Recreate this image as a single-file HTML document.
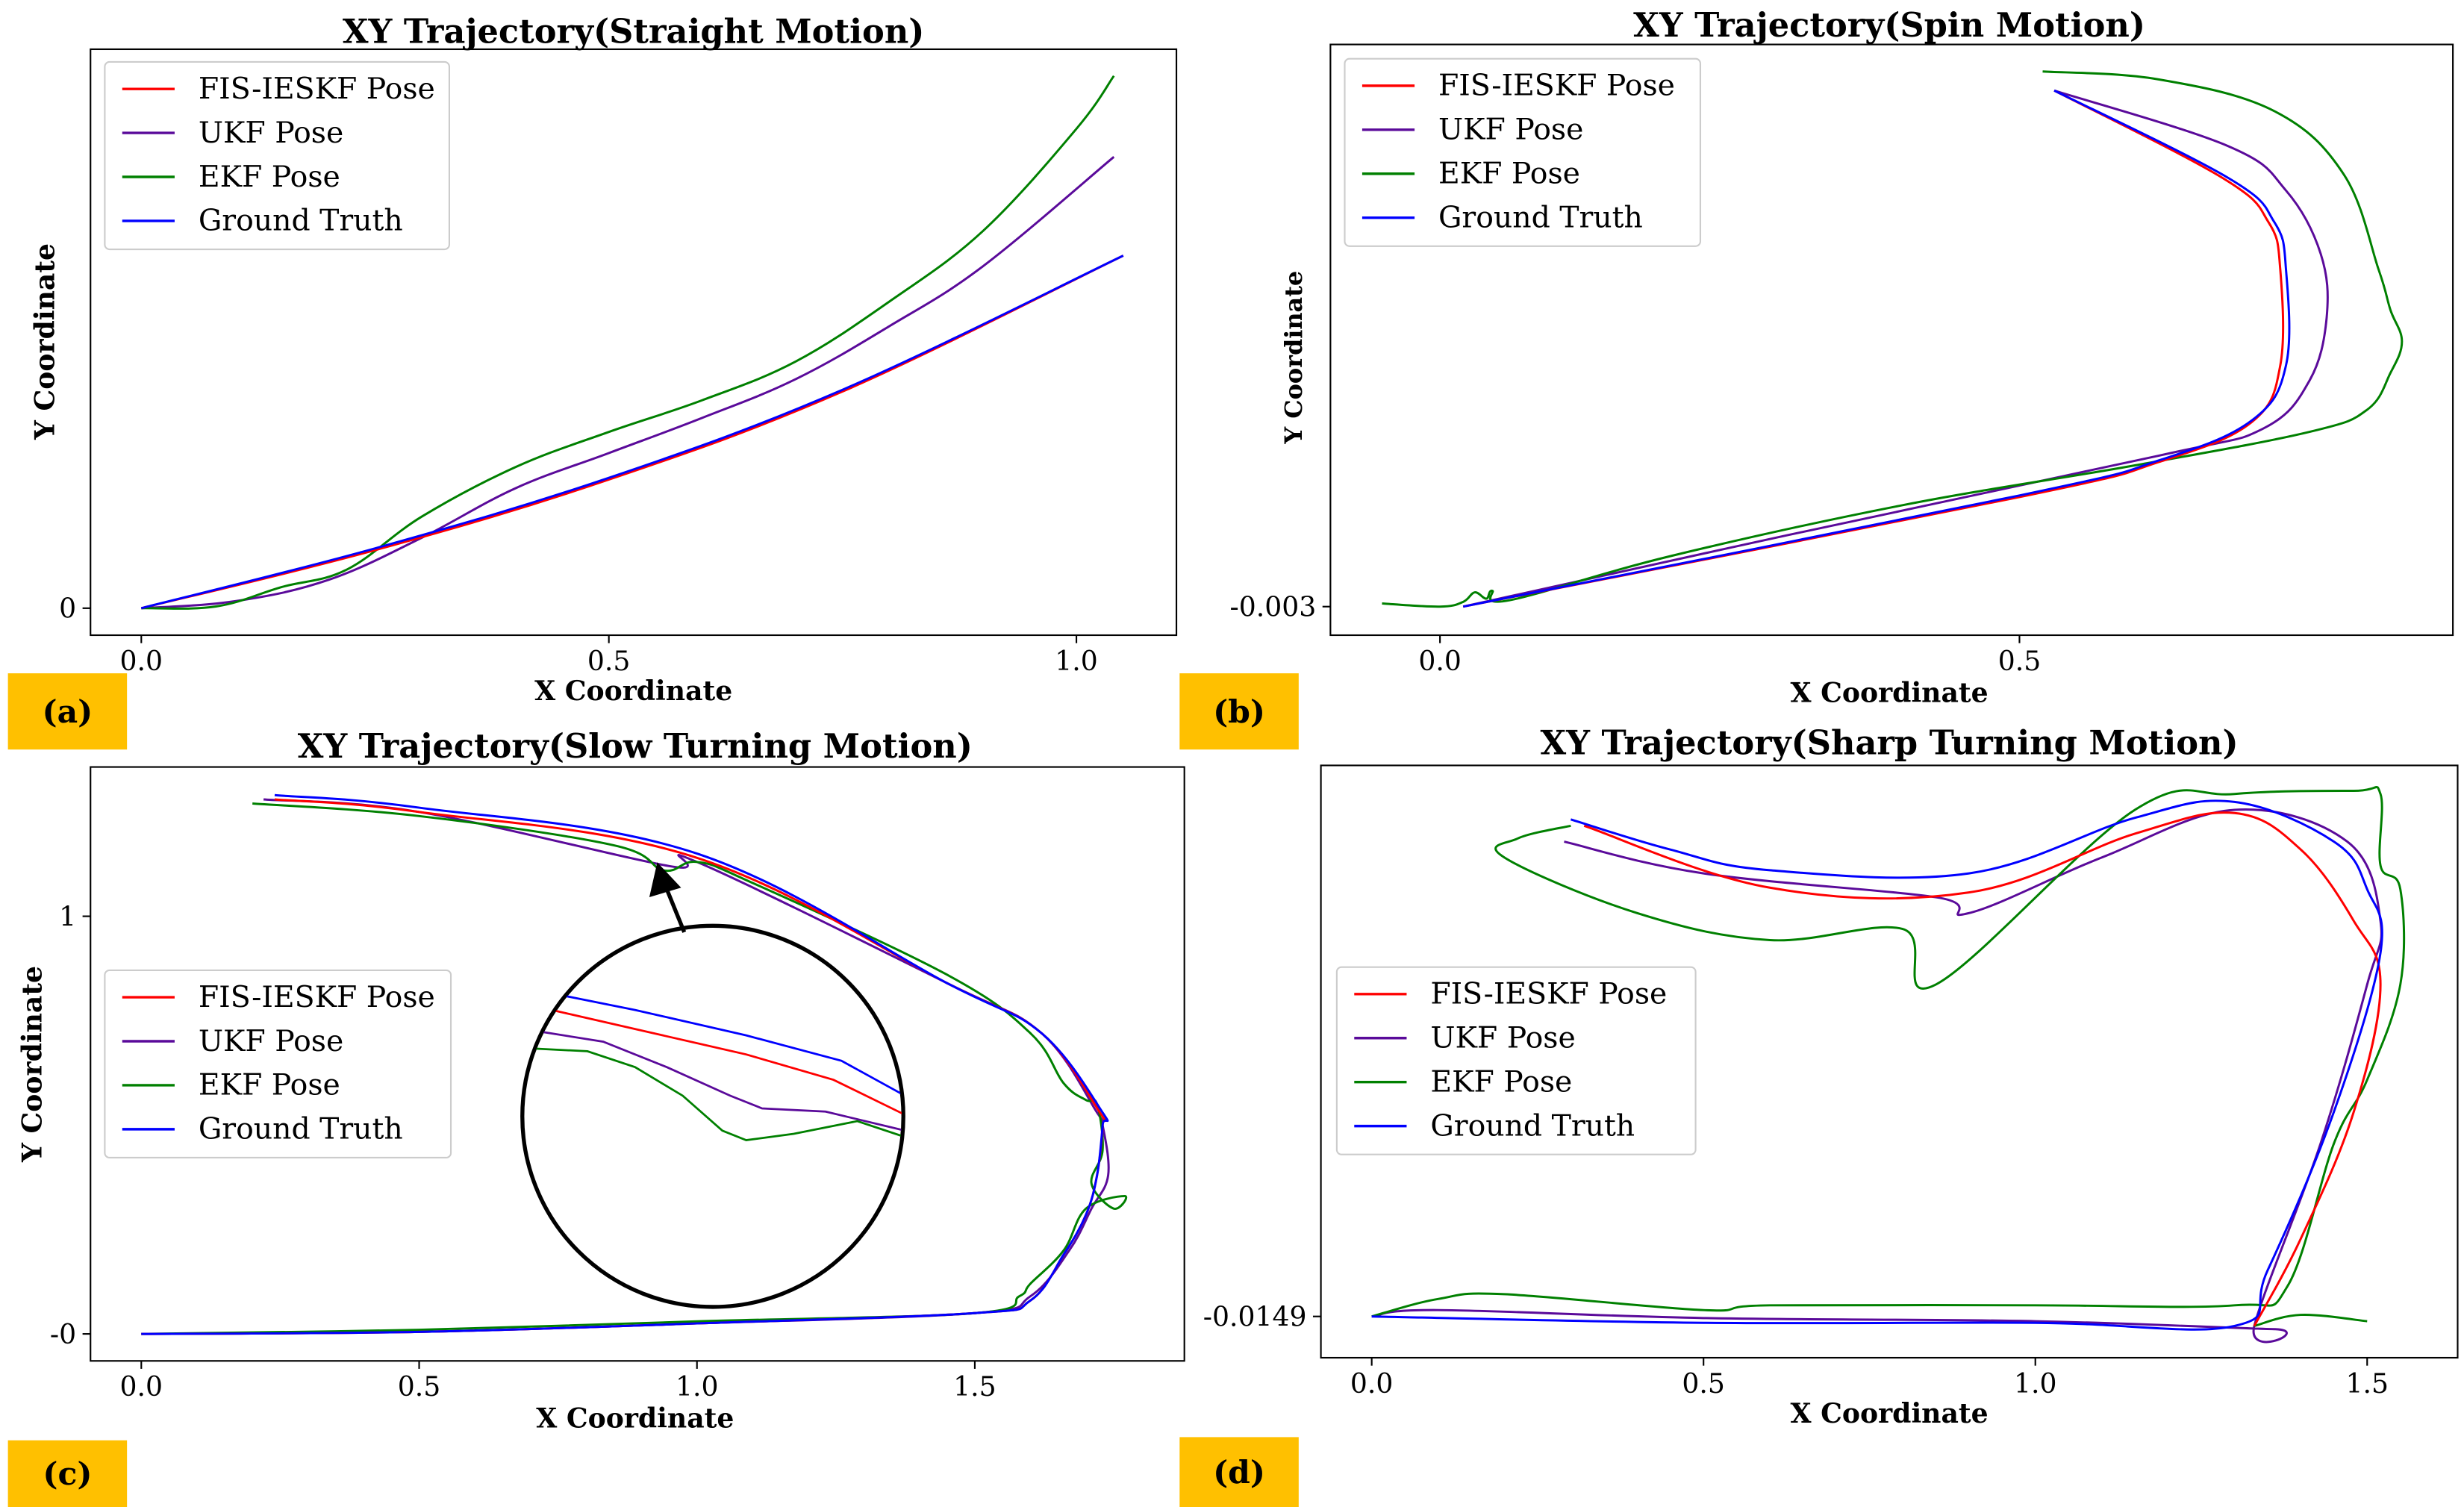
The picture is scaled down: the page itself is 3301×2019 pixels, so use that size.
<!DOCTYPE html>
<html><head><meta charset="utf-8"><style>
html,body{margin:0;padding:0;background:#fff}
svg{display:block}
text{font-family:"DejaVu Serif","Liberation Serif",serif;fill:#000}
</style></head><body>
<svg id="c" width="3301" height="2019" viewBox="0 0 1552 949" preserveAspectRatio="none" xmlns="http://www.w3.org/2000/svg"></svg>
<script>
// ---- Panel (a) straight ----
const aX_GT=[0,0.25,0.5,0.75,1.05];
const aY_GT=[0,0.17,0.37,0.62,1.0];
const aX_FIS=[0,0.25,0.5,0.75,1.05];
const aY_FIS=[0,0.165,0.365,0.615,1.0];
const aX_UKF=[0,0.1,0.2,0.3,0.4,0.5,0.6,0.7,0.8,0.9,1.04];
const aY_UKF=[0,0.02,0.08,0.2,0.34,0.44,0.54,0.65,0.8,0.97,1.28];
const aX_EKF=[0,0.08,0.15,0.22,0.3,0.4,0.5,0.6,0.7,0.8,0.9,1.0,1.04];
const aY_EKF=[0,0.005,0.06,0.11,0.26,0.4,0.5,0.59,0.7,0.87,1.07,1.36,1.51];
// ---- Panel (b) spin ----
const bX_GT=[0.02,0.5,0.62,0.7,0.73,0.73,0.72,0.68,0.53];
const bY_GT=[0,0.7,0.92,1.17,1.52,2.12,2.42,2.7,3.25];
const bX_FIS=[0.02,0.5,0.62,0.7,0.725,0.725,0.715,0.675,0.53];
const bY_FIS=[0,0.69,0.91,1.16,1.52,2.12,2.42,2.7,3.25];
const bX_UKF=[0.02,0.3,0.62,0.71,0.75,0.765,0.76,0.73,0.68,0.53];
const bY_UKF=[0,0.45,0.95,1.12,1.42,1.82,2.22,2.62,2.9,3.25];
const bX_EKF=[-0.05,0.0,0.02,0.03,0.04,0.045,0.06,0.2,0.4,0.6,0.75,0.8,0.82,0.83,0.82,0.81,0.78,0.72,0.62,0.52];
const bY_EKF=[0.02,0.0,0.03,0.09,0.05,0.1,0.04,0.32,0.64,0.89,1.1,1.24,1.47,1.67,1.87,2.12,2.72,3.12,3.32,3.37];
// ---- Panel (c) slow turning ----
const cX_GT=[0,0.5,1.0,1.5,1.6,1.66,1.7,1.72,1.73,1.73,1.62,1.45,1.0,0.5,0.24];
const cY_GT=[0,0.005,0.025,0.05,0.08,0.19,0.285,0.38,0.5,0.53,0.72,0.84,1.15,1.26,1.29];
const cX_FIS=[0,0.5,1.0,1.5,1.6,1.66,1.7,1.72,1.73,1.725,1.62,1.45,1.0,0.5,0.24];
const cY_FIS=[0,0.005,0.025,0.05,0.08,0.19,0.285,0.38,0.5,0.53,0.72,0.84,1.14,1.25,1.28];
const cX_UKF=[0,0.5,1.0,1.5,1.6,1.67,1.71,1.74,1.73,1.72,1.62,1.45,1.0,0.95,0.5,0.22];
const cY_UKF=[0,0.005,0.025,0.05,0.09,0.2,0.3,0.38,0.5,0.53,0.72,0.84,1.13,1.12,1.25,1.28];
const cX_EKF=[0,0.5,1.0,1.5,1.58,1.6,1.66,1.7,1.77,1.75,1.71,1.73,1.72,1.7,1.66,1.6,1.45,1.1,1.0,0.94,0.85,0.5,0.2];
const cY_EKF=[0,0.01,0.03,0.05,0.09,0.12,0.2,0.3,0.33,0.3,0.36,0.44,0.55,0.56,0.6,0.72,0.86,1.08,1.13,1.11,1.17,1.24,1.27];
// ---- Panel (d) sharp turning ----
const dX_GT=[0,0.5,1.0,1.3,1.35,1.45,1.52,1.5,1.45,1.3,1.15,0.9,0.6,0.45,0.3];
const dY_GT=[0,-0.04,-0.04,-0.06,0.29,1.29,2.29,2.69,2.99,3.24,3.14,2.79,2.81,2.94,3.13];
const dX_FIS=[1.33,1.4,1.48,1.52,1.48,1.4,1.3,1.15,0.9,0.6,0.32];
const dY_FIS=[-0.06,0.49,1.29,2.09,2.49,2.94,3.17,3.04,2.67,2.7,3.09];
const dX_UKF=[0,0.1,0.5,1.0,1.36,1.33,1.43,1.5,1.52,1.47,1.3,1.1,0.9,0.85,0.5,0.29];
const dY_UKF=[0,0.04,-0.01,-0.03,-0.08,-0.06,1.09,2.09,2.49,2.99,3.19,2.89,2.54,2.64,2.79,2.99];
const dX_EKF=[0,0.1,0.2,0.5,0.6,1.0,1.3,1.38,1.45,1.5,1.55,1.55,1.52,1.52,1.48,1.3,1.15,0.85,0.8,0.6,0.4,0.2,0.22,0.3];
const dY_EKF=[0,0.11,0.14,0.04,0.07,0.07,0.07,0.19,1.09,1.49,2.09,2.69,2.84,3.29,3.31,3.29,3.19,2.09,2.44,2.37,2.54,2.89,3.01,3.09];
const dX_EKF_TAIL=[1.33,1.4,1.5];
const dY_EKF_TAIL=[-0.06,0.01,-0.03];

const NS="http://www.w3.org/2000/svg";
const svg=document.getElementById('c');
function mk(tag,attrs,parent,txt){const e=document.createElementNS(NS,tag);for(const k in attrs)e.setAttribute(k,attrs[k]);if(txt!==undefined)e.textContent=txt;(parent||svg).appendChild(e);return e;}
function smooth(P){ // catmull-rom to bezier
  let d='M'+P[0][0].toFixed(1)+','+P[0][1].toFixed(1);
  for(let i=0;i<P.length-1;i++){
    const p0=P[Math.max(0,i-1)],p1=P[i],p2=P[i+1],p3=P[Math.min(P.length-1,i+2)];
    const t=0.18;
    const c1=[p1[0]+(p2[0]-p0[0])*t,p1[1]+(p2[1]-p0[1])*t];
    const c2=[p2[0]-(p3[0]-p1[0])*t,p2[1]-(p3[1]-p1[1])*t];
    d+=`C${c1[0].toFixed(1)},${c1[1].toFixed(1)} ${c2[0].toFixed(1)},${c2[1].toFixed(1)} ${p2[0].toFixed(1)},${p2[1].toFixed(1)}`;
  }
  return d;
}
const COL={GT:'#0000ff',FIS:'#ff0000',UKF:'#5a0a9a',EKF:'#008000',EKF2:'#008000'};
function panel(p){
  const g=mk('g',{});
  
  
  const sx=v=>p.x0+v*p.kx, sy=v=>p.y0-v*p.ky;
  const fr=mk('rect',{x:p.L,y:p.T,width:p.R-p.L,height:p.B-p.T,fill:'none',stroke:'#000','stroke-width':1},g);
  
  
  p.xt.forEach((t,i)=>{const x=sx(p.xv[i]);mk('line',{x1:x,x2:x,y1:p.B,y2:p.B+5,stroke:'#000'},g);
    const tx=mk('text',{x:x,y:p.B+22,'font-size':17,'text-anchor':'middle'},g,t);
    
    });
  p.yt.forEach((t,i)=>{const y=sy(p.yv[i]);mk('line',{x1:p.L-5,x2:p.L,y1:y,y2:y,stroke:'#000'},g);
    const tx=mk('text',{x:p.L-9,y:y+6,'font-size':17,'text-anchor':'end'},g,t);
    
    });
  ['UKF','EKF','EKF2','FIS','GT'].forEach(k=>{if(!p.d[k])return;const X=p.d[k][0],Y=p.d[k][1];
    const P=X.map((v,i)=>[sx(v),sy(Y[i])]);
    const l=mk('path',{d:smooth(P),fill:'none',stroke:COL[k],'stroke-width':1.4,'stroke-linejoin':'round'},g);
    
    });
  const t=mk('text',{x:p.tx,y:p.ty,'font-size':21,'font-weight':'bold','text-anchor':'middle'},g,p.title);
  
  
  const xl=mk('text',{x:p.tx,y:p.xly,'font-size':17,'font-weight':'bold','text-anchor':'middle'},g,'X Coordinate');
  
  
  if(p.ylx){const yl=mk('text',{x:p.ylx,y:p.yly,'font-size':p.yfs,'font-weight':'bold','text-anchor':'middle',transform:`rotate(-90 ${p.ylx} ${p.yly})`},g,'Y Coordinate');
    
    }
  const lg=mk('g',{},g);
  
  
  mk('rect',{x:p.lx,y:p.ly,width:p.lw,height:118,fill:'#fff',stroke:'#ccc',rx:3},lg);
  [['FIS','FIS-IESKF Pose'],['UKF','UKF Pose'],['EKF','EKF Pose'],['GT','Ground Truth']].forEach((e,i)=>{
    const yy=p.ly+17+i*27.7;
    mk('line',{x1:p.lx+11,x2:p.lx+44,y1:yy,y2:yy,stroke:COL[e[0]],'stroke-width':1.6},lg);
    const tx=mk('text',{x:p.lx+59,y:yy+6,'font-size':18.5},lg,e[1]);
    
    });
  const bx=mk('rect',{x:p.bx,y:p.by,width:75,height:p.bh,fill:'#ffc000'},g);
  
  
  const bt=mk('text',{x:p.bx+37.5,y:p.by+p.bh/2+7,'font-size':20,'font-weight':'bold','text-anchor':'middle'},g,'('+p.id+')');
  
  
  return {sx,sy,g};
}
panel({id:'a',L:57,R:741,T:31,B:400,x0:89,kx:589,y0:383,ky:222,xt:['0.0','0.5','1.0'],xv:[0,0.5,1.0],yt:['0'],yv:[0],
  d:{GT:[aX_GT,aY_GT],FIS:[aX_FIS,aY_FIS],UKF:[aX_UKF,aY_UKF],EKF:[aX_EKF,aY_EKF]},
  title:'XY Trajectory(Straight Motion)',tx:399,ty:27,xly:441,ylx:34,yly:215,yfs:17,lx:66,ly:39,lw:217,bx:5,by:424,bh:48});
panel({id:'b',L:838,R:1545,T:28,B:400,x0:907,kx:730,y0:382,ky:100,xt:['0.0','0.5'],xv:[0,0.5],yt:['-0.003'],yv:[0],
  d:{GT:[bX_GT,bY_GT],FIS:[bX_FIS,bY_FIS],UKF:[bX_UKF,bY_UKF],EKF:[bX_EKF,bY_EKF]},
  title:'XY Trajectory(Spin Motion)',tx:1190,ty:23,xly:442,ylx:820,yly:225,yfs:15,lx:847,ly:37,lw:224,bx:743,by:424,bh:48});
panel({id:'c',L:57,R:746,T:483,B:857,x0:89,kx:350,y0:840,ky:263,xt:['0.0','0.5','1.0','1.5'],xv:[0,0.5,1,1.5],yt:['1','-0'],yv:[1,0],
  d:{GT:[cX_GT,cY_GT],FIS:[cX_FIS,cY_FIS],UKF:[cX_UKF,cY_UKF],EKF:[cX_EKF,cY_EKF]},
  title:'XY Trajectory(Slow Turning Motion)',tx:400,ty:477,xly:899,ylx:26,yly:670,yfs:17,lx:66,ly:611,lw:218,bx:5,by:907,bh:42});
panel({id:'d',L:832,R:1548,T:482,B:855,x0:864,kx:418,y0:829,ky:100,xt:['0.0','0.5','1.0','1.5'],xv:[0,0.5,1,1.5],yt:['-0.0149'],yv:[0],
  d:{GT:[dX_GT,dY_GT],FIS:[dX_FIS,dY_FIS],UKF:[dX_UKF,dY_UKF],EKF:[dX_EKF,dY_EKF],EKF2:[dX_EKF_TAIL,dY_EKF_TAIL]},
  title:'XY Trajectory(Sharp Turning Motion)',tx:1190,ty:475,xly:896,ylx:0,lx:842,ly:609,lw:226,bx:743,by:905,bh:44});
// zoom inset in (c)
const z=mk('g',{});


mk('defs',{},z).innerHTML='<clipPath id="cc"><circle cx="449" cy="703" r="119"/></clipPath>';
mk('circle',{cx:449,cy:703,r:120,fill:'#fff',stroke:'#000','stroke-width':2.5},z);
const zin=mk('g',{'clip-path':'url(#cc)'},z);
mk('polyline',{points:'330,622 400,636 470,652 530,668 570,690',fill:'none',stroke:'#0000ff','stroke-width':1.3},zin);
mk('polyline',{points:'330,632 400,648 470,664 525,680 570,702',fill:'none',stroke:'#ff0000','stroke-width':1.3},zin);
mk('polyline',{points:'330,648 380,656 420,672 460,690 480,698 520,700 570,712',fill:'none',stroke:'#5a0a9a','stroke-width':1.3},zin);
mk('polyline',{points:'330,660 370,662 400,672 430,690 455,712 470,718 500,714 540,706 570,716',fill:'none',stroke:'#008000','stroke-width':1.3},zin);
mk('line',{x1:431,y1:587,x2:420,y2:560,stroke:'#000','stroke-width':2.5},z);
mk('polygon',{points:'414,543 409,565 429,559',fill:'#000'},z);
</script>
</body></html>
